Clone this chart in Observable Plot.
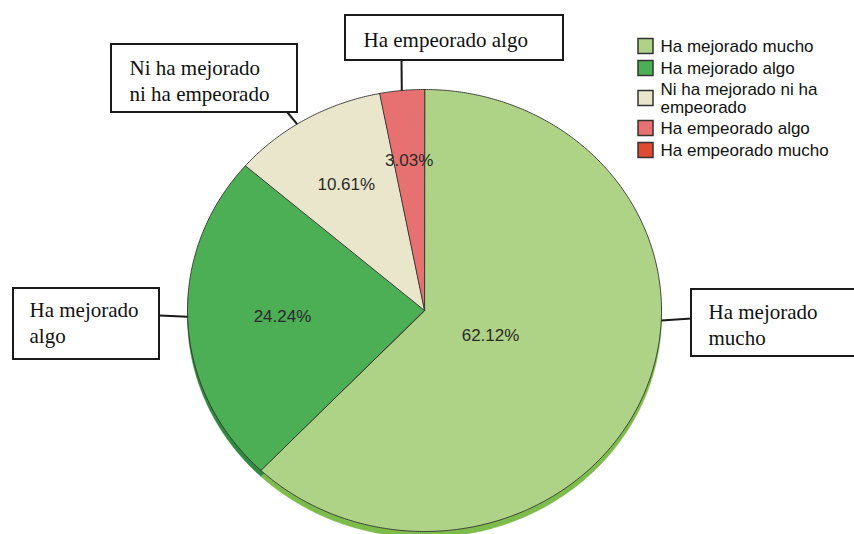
<!DOCTYPE html>
<html>
<head>
<meta charset="utf-8">
<script src="https://cdn.jsdelivr.net/npm/d3@7"></script>
<script src="https://cdn.jsdelivr.net/npm/@observablehq/plot@0.6"></script>
<style>
  html, body { margin: 0; padding: 0; background: #fff; }
  #chart { width: 854px; height: 534px; }
</style>
</head>
<body>
<div id="chart"></div>
<script>
// ---- data ----
const categories = ["Ha mejorado mucho", "Ha mejorado algo", "Ni ha mejorado ni ha empeorado", "Ha empeorado algo", "Ha empeorado mucho"];
const percents = [62.12, 24.24, 10.61, 3.03, 0];
const legendLabels = ["Ha mejorado mucho", "Ha mejorado algo", "Ni ha mejorado ni ha\nempeorado", "Ha empeorado algo", "Ha empeorado mucho"];
const calloutLabels = ["Ha mejorado\nmucho", "Ha mejorado\nalgo", "Ni ha mejorado\nni ha empeorado", "Ha empeorado algo"];
const colors = ["#aed387", "#4cae55", "#e9e6cb", "#e77170", "#e04a33"];
const rimColors = ["#7dbb4a", "#2e8a3e", "#c9c6a8", "#c65250", "#b83a28"];

// ---- layout ----
const pie = {cx: 424, cy: 310, rx: 237, ry: 221, depth: 6};
const labelRadius = [0.3, 0.6, 0.66, 0.68, 0.7];
const callouts = [
  {slice: 0, angle: 92.6, box: [691, 289, 870, 356], attach: [691, 318], text: [708, 323]},
  {slice: 1, angle: 268.4, box: [13, 288, 159, 359], attach: [159, 315], text: [29, 321]},
  {slice: 2, angle: 327.5, box: [111, 44, 297, 112], attach: [287, 112], text: [129, 79]},
  {slice: 3, angle: 354.5, box: [345, 15, 563, 60], attach: [401, 60], text: [363, 38]}
];
const legend = {x: 638, size: 15, textX: 660, rows: [46, 68, 98, 128, 150]};

// ---- geometry from data ----
const total = d3.sum(percents);
const pt = (a, r = 1, dy = 0) => {
  const t = a * Math.PI / 180;
  return {x: pie.cx + pie.rx * r * Math.sin(t), y: pie.cy - pie.ry * r * Math.cos(t) + dy};
};
let acc = 0;
const slices = percents.map((v, i) => {
  const a0 = acc / total * 360;
  acc += v;
  const a1 = acc / total * 360;
  return {i, name: categories[i], value: v, a0, a1, mid: (a0 + a1) / 2};
}).filter(s => s.value > 0);

function polygon(s, dy = 0) {
  const pts = [{x: pie.cx, y: pie.cy + dy}];
  const n = Math.max(2, Math.ceil((s.a1 - s.a0) / 0.5));
  for (let k = 0; k <= n; k++) pts.push(pt(s.a0 + (s.a1 - s.a0) * k / n, 1, dy));
  return pts;
}

const marks = [];
// 3D rim
for (const s of slices) {
  marks.push(Plot.line(polygon(s, pie.depth), {x: "x", y: "y", curve: "linear-closed", fill: rimColors[s.i], stroke: rimColors[s.i], strokeWidth: 0.5}));
}
// top face
for (const s of slices) {
  marks.push(Plot.line(polygon(s), {x: "x", y: "y", curve: "linear-closed", fill: colors[s.i], stroke: "#333", strokeWidth: 0.9}));
}
// percentage labels
marks.push(Plot.text(slices, {
  x: s => pt(s.mid, labelRadius[s.i]).x,
  y: s => pt(s.mid, labelRadius[s.i]).y,
  text: s => s.value.toFixed(2) + "%",
  fontSize: 17, fill: "#2a2a2a", fontFamily: "Liberation Sans, Arial, sans-serif"
}));
// callouts
marks.push(Plot.link(callouts, {
  x1: c => pt(c.angle).x, y1: c => pt(c.angle).y,
  x2: c => c.attach[0], y2: c => c.attach[1],
  stroke: "#1a1a1a", strokeWidth: 2
}));
marks.push(Plot.rect(callouts, {
  x1: c => c.box[0], y1: c => c.box[1], x2: c => c.box[2], y2: c => c.box[3],
  fill: "white", stroke: "#1a1a1a", strokeWidth: 2
}));
marks.push(Plot.text(callouts, {
  x: c => c.text[0], y: c => c.text[1],
  text: c => calloutLabels[callouts.indexOf(c)],
  textAnchor: "start", lineAnchor: "middle", lineHeight: 1.24,
  fontSize: 21, fill: "#111", fontFamily: "Liberation Serif, Times New Roman, serif"
}));
// legend
const legendData = categories.map((c, i) => ({i, label: legendLabels[i], y: legend.rows[i]}));
marks.push(Plot.rect(legendData, {
  x1: legend.x, x2: legend.x + legend.size,
  y1: d => d.y - legend.size / 2, y2: d => d.y + legend.size / 2,
  fill: d => colors[d.i], stroke: "#333", strokeWidth: 1.5
}));
marks.push(Plot.text(legendData, {
  x: legend.textX, y: d => d.y, text: "label",
  textAnchor: "start", lineAnchor: "middle", lineHeight: 1.05,
  fontSize: 17, fill: "#111", fontFamily: "Liberation Sans, Arial, sans-serif"
}));

const chart = Plot.plot({
  width: 854, height: 534,
  margin: 0,
  x: {domain: [0, 854], range: [0, 854], axis: null},
  y: {domain: [0, 534], range: [0, 534], axis: null},
  style: {background: "white", overflow: "hidden"},
  marks
});
document.getElementById("chart").appendChild(chart);
</script>
</body>
</html>
